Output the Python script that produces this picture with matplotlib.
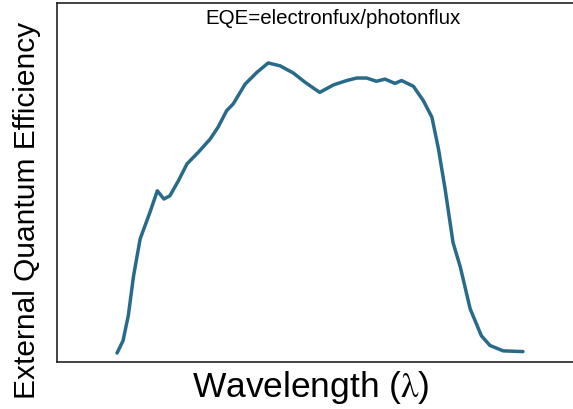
import matplotlib.pyplot as plt

# EQE curve (wavelength in nm, EQE in %)
wavelength = [391, 400, 408, 416, 426, 441, 452, 462, 471, 484, 497, 514, 532, 544,
              557, 567, 585, 603, 620, 638, 658, 676, 698, 719, 739, 754, 769, 784,
              797, 812, 822, 840, 855, 868, 878, 888, 900, 911, 926, 943, 956, 976, 1006]
eqe = [2.5, 5.9, 12.9, 24.0, 34.3, 41.8, 47.7, 45.4, 46.3, 50.5, 55.2, 58.4, 62.1, 65.4,
       70.0, 71.9, 77.4, 80.7, 83.3, 82.5, 80.5, 77.9, 75.1, 77.2, 78.4, 79.1, 79.1, 78.2,
       78.8, 77.6, 78.4, 76.8, 72.8, 68.2, 59.3, 48.2, 33.3, 26.5, 14.8, 7.3, 4.6, 3.1, 2.9]

plt.rcParams['font.family'] = ['Liberation Sans', 'DejaVu Sans']
plt.rcParams['mathtext.fontset'] = 'stix'

fig = plt.figure(figsize=(5.73, 4.10), dpi=100)
# axes runs off the right edge like in the reference
ax = fig.add_axes([57 / 573, 47 / 410, 530 / 573, 359 / 410])

ax.plot(wavelength, eqe, color='#286a8a', linewidth=2.5,
        solid_capstyle='round', solid_joinstyle='round')

ax.set_xlim(300, 1103)
ax.set_ylim(0, 100)
ax.set_xticks([])
ax.set_yticks([])
for side in ax.spines.values():
    side.set_color('#222222')
    side.set_linewidth(1.2)

ax.text(0.52, 0.985, 'EQE=electronfux/photonflux', transform=ax.transAxes,
        ha='center', va='top', fontsize=14.8)

fig.text(311 / 573, 1 - 388 / 410, r'Wavelength ($\mathrm{\lambda}$)', ha='center', va='center',
         fontsize=25.5)
fig.text(27 / 573, 1 - 210 / 410, 'External Quantum Efficiency', ha='center', va='center',
         rotation=90, fontsize=21.5)

fig.savefig('out.png', dpi=100)
